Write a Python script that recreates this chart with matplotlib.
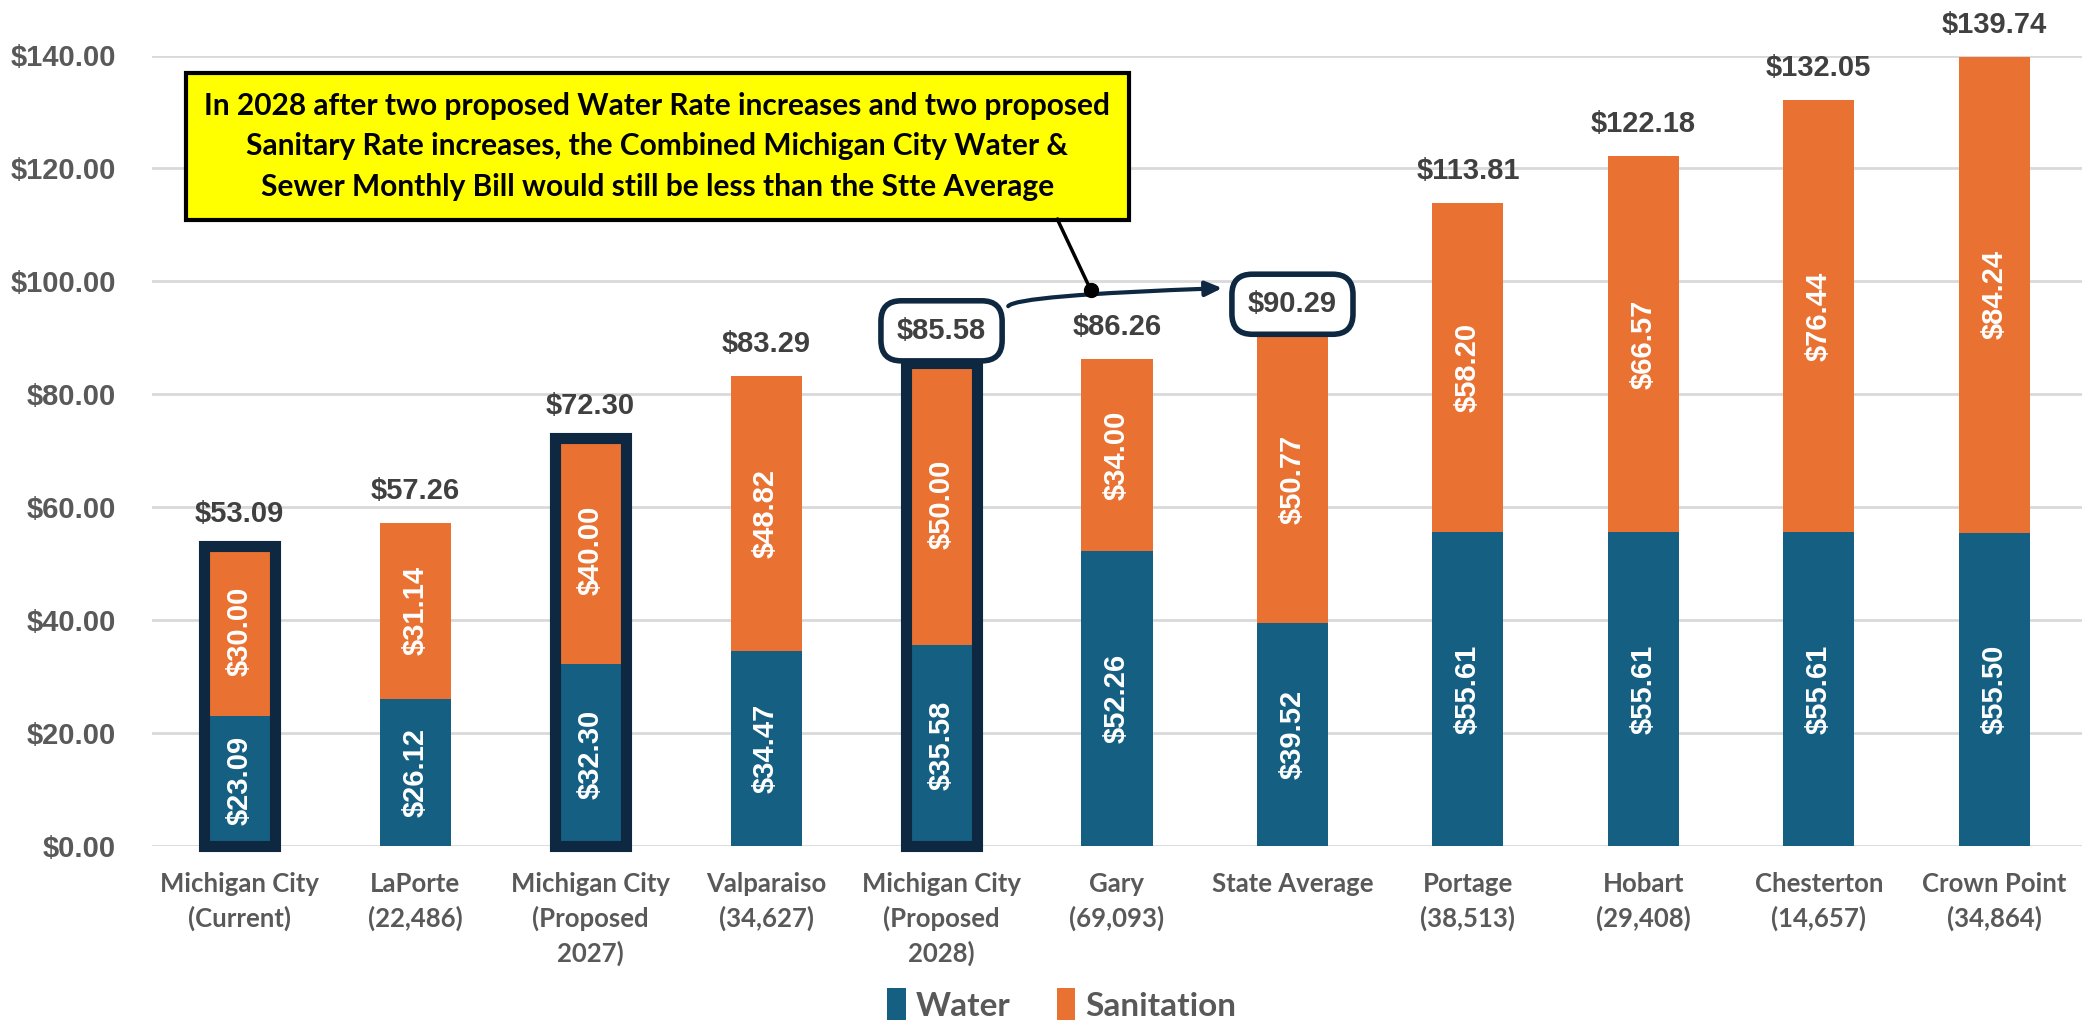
import matplotlib
matplotlib.use("Agg")
import matplotlib.pyplot as plt
from matplotlib.ticker import FuncFormatter

# Monthly water + sewer bill comparison
places = ["Michigan City\n(Current)", "LaPorte\n(22,486)", "Michigan City\n(Proposed\n2027)",
          "Valparaiso\n(34,627)", "Michigan City\n(Proposed\n2028)", "Gary\n(69,093)",
          "State Average", "Portage\n(38,513)", "Hobart\n(29,408)", "Chesterton\n(14,657)",
          "Crown Point\n(34,864)"]
water = [23.09, 26.12, 32.30, 34.47, 35.58, 52.26, 39.52, 55.61, 55.61, 55.61, 55.50]
sanitation = [30.00, 31.14, 40.00, 48.82, 50.00, 34.00, 50.77, 58.20, 66.57, 76.44, 84.24]
totals = [53.09, 57.26, 72.30, 83.29, 85.58, 86.26, 90.29, 113.81, 122.18, 132.05, 139.74]
highlight = [0, 2, 4]        # Michigan City bars get the dark outline
boxed = [4, 6]               # totals with rounded boxes (2028 vs state average)
yticks = [0, 20, 40, 60, 80, 100, 120, 140]

callout = ("In 2028 after two proposed Water Rate increases and two proposed\n"
           "Sanitary Rate increases, the Combined Michigan City Water &\n"
           "Sewer Monthly Bill would still be less than the Stte Average")

BLUE = "#156082"
ORANGE = "#E97132"
NAVY = "#0E2841"
GRID = "#D9D9D9"
AXTXT = "#595959"
LBL = "#404040"
TFONT = "Lato"

plt.rcParams["font.family"] = ["Liberation Sans", "DejaVu Sans"]

fig = plt.figure(figsize=(20.82, 10.26), dpi=100)
ax = fig.add_axes([0.073, 1 - 846 / 1026, 0.927, (846 - 55.5) / 1026])

x = list(range(len(places)))
w = 0.405
b1 = ax.bar(x, water, w, color=BLUE, label="Water", zorder=2)
b2 = ax.bar(x, sanitation, w, bottom=water, color=ORANGE, label="Sanitation", zorder=2)

# thick outline around the Michigan City stacks
ax.bar([x[i] for i in highlight], [totals[i] for i in highlight], w,
       fill=False, edgecolor=NAVY, linewidth=8, zorder=3, clip_on=False)

ax.bar_label(b1, labels=[f"${v:.2f}" for v in water], label_type="center",
             rotation=90, color="white", fontsize=21, fontweight="bold", zorder=4)
ax.bar_label(b2, labels=[f"${v:.2f}" for v in sanitation], label_type="center",
             rotation=90, color="white", fontsize=21, fontweight="bold", zorder=4)

for i, t in enumerate(totals):
    bb = None
    if i in boxed:
        bb = dict(boxstyle="round,pad=0.55,rounding_size=0.7", fc="white",
                  ec=NAVY, lw=4)
    ax.annotate(f"${t:.2f}", (x[i], t), xytext=(0, 23),
                textcoords="offset points", ha="center", va="center",
                fontsize=21, fontweight="bold", color=LBL, bbox=bb, zorder=5)

ax.set_xlim(-0.5, len(places) - 0.5)
ax.set_ylim(0, 140)
ax.set_yticks(yticks)
ax.yaxis.set_major_formatter(FuncFormatter(lambda v, p: f"${v:.2f}"))
ax.grid(axis="y", color=GRID, linewidth=2, zorder=0)
ax.set_axisbelow(True)
for s in ax.spines.values():
    s.set_visible(False)
ax.tick_params(length=0)
ax.tick_params(axis="y", pad=26, labelsize=21, labelcolor=AXTXT)
for t in ax.get_yticklabels():
    t.set_fontweight("bold")
ax.set_xticks(x)
ax.set_xticklabels(places, fontsize=18.5, color=AXTXT, family=TFONT,
                   fontweight="bold", linespacing=1.45)
ax.tick_params(axis="x", pad=19)

# yellow callout and its leader line
ax.text(2.38, 123.9, callout, ha="center", va="center", fontsize=21.5,
        family=TFONT, fontweight="bold", color="black", linespacing=1.55,
        bbox=dict(boxstyle="square,pad=0.62", fc="#FFFF00", ec="black", lw=3),
        zorder=6)
ax.plot([4.66, 4.85], [111.0, 98.5], color="black", lw=2.5, zorder=6)
ax.plot([4.85], [98.5], marker="o", ms=10, color="black", zorder=7)

# curved arrow from the 2028 box to the state average box
ax.annotate("", xy=(5.6, 98.8), xytext=(4.38, 95.6),
            arrowprops=dict(arrowstyle="-|>,head_length=1.0,head_width=0.45",
                            color=NAVY, lw=3,
                            connectionstyle="angle3,angleA=55,angleB=2",
                            shrinkA=0, shrinkB=0),
            zorder=6)

leg = fig.legend(handles=[b1, b2], loc="lower center", bbox_to_anchor=(0.51, -0.024),
                 ncol=2, frameon=False, handlelength=0.55, handleheight=1.1,
                 handletextpad=0.3, columnspacing=1.4,
                 prop=dict(family=TFONT, weight="bold", size=24))
for t in leg.get_texts():
    t.set_color(AXTXT)

fig.savefig("out.png", dpi=100, facecolor="white")
